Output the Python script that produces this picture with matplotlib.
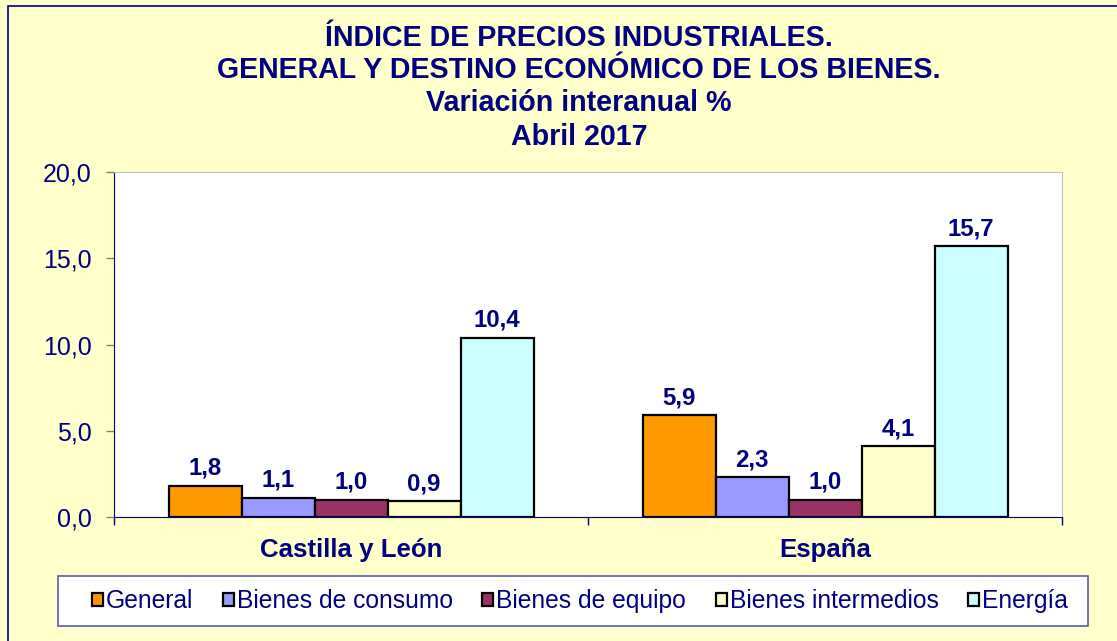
import matplotlib
matplotlib.use("Agg")
import matplotlib.pyplot as plt
from matplotlib.patches import Rectangle, Patch
import numpy as np

plt.rcParams['font.family'] = ['Liberation Sans', 'DejaVu Sans']

regiones = ['Castilla y León', 'España']
series = ['General', 'Bienes de consumo', 'Bienes de equipo', 'Bienes intermedios', 'Energía']
general = [1.8, 5.9]
consumo = [1.1, 2.3]
equipo = [1.0, 1.0]
intermedios = [0.9, 4.1]
energia = [10.4, 15.7]
colores = ['#FF9900', '#9999FF', '#993366', '#FFFFCC', '#CCFFFF']
titulo = ['ÍNDICE DE PRECIOS INDUSTRIALES.',
          'GENERAL Y DESTINO ECONÓMICO DE LOS BIENES.',
          'Variación interanual %',
          'Abril 2017']

navy = '#000080'
W, H = 1117, 641
fig = plt.figure(figsize=(W / 100, H / 100), dpi=100, facecolor='#FFFFCC')

# outer border of the chart (only left/top visible)
fig.patches.append(Rectangle((8 / W, -0.1), 1.2, 1 - 6 / H + 0.1, transform=fig.transFigure,
                             facecolor='none', edgecolor=navy, linewidth=1.2, zorder=0))

ax = fig.add_axes([114 / W, 1 - 517 / H, 948 / W, 345 / H])
ax.set_facecolor('white')

x = np.arange(len(regiones))
w = 73 / 474
datos = [general, consumo, equipo, intermedios, energia]
for i, (vals, col) in enumerate(zip(datos, colores)):
    pos = x + (i - 2) * w
    ax.bar(pos, vals, width=w, color=col, edgecolor='black', linewidth=1.6, zorder=3)
    for p, v in zip(pos, vals):
        ax.annotate(f'{v:.1f}'.replace('.', ','), (p, v), xytext=(0, 8), textcoords='offset points',
                    ha='center', va='baseline', fontsize=17.3, fontweight='bold', color=navy)

ax.set_xlim(-0.5, 1.5)
ax.set_ylim(0, 20)
ax.set_yticks([0, 5, 10, 15, 20])
ax.set_yticklabels([f'{t:.1f}'.replace('.', ',') for t in [0, 5, 10, 15, 20]])
ax.tick_params(axis='y', direction='out', length=6, width=1, color='#808080',
               labelsize=18, labelcolor=navy, pad=10)
ax.set_xticks([-0.5, 0.5, 1.5])
ax.set_xticklabels([])
ax.tick_params(axis='x', which='major', direction='out', length=6, width=1, color=navy)
ax.set_xticks(x, minor=True)
ax.set_xticklabels(regiones, minor=True)
ax.tick_params(axis='x', which='minor', length=0, pad=15, labelsize=18.6, labelcolor=navy)
for lab in ax.get_xticklabels(minor=True):
    lab.set_fontweight('bold')

ax.spines['left'].set_color(navy)
ax.spines['bottom'].set_color(navy)
ax.spines['top'].set_color('#C0C0C0')
ax.spines['right'].set_color('#C0C0C0')

for linea, yb in zip(titulo, [46, 78, 111, 145]):
    fig.text(579 / W, 1 - yb / H, linea, ha='center', va='baseline',
             fontsize=20.6, fontweight='bold', color=navy)

# legend box
fig.patches.append(Rectangle((58 / W, 1 - 626 / H), 1030 / W, 50 / H, transform=fig.transFigure,
                             facecolor='white', edgecolor='#5A5AB4', linewidth=1.2, zorder=1))
handles = [Patch(facecolor=c, edgecolor='black', linewidth=1.6) for c in colores]
fig.legend(handles, series, loc='center', bbox_to_anchor=(580 / W, 1 - 601 / H), ncol=5,
           frameon=False, fontsize=17.7, labelcolor=navy, handlelength=0.45, handleheight=0.45,
           handletextpad=0.12, columnspacing=1.2, borderpad=0)

fig.savefig('out.png', dpi=100, facecolor=fig.get_facecolor())
